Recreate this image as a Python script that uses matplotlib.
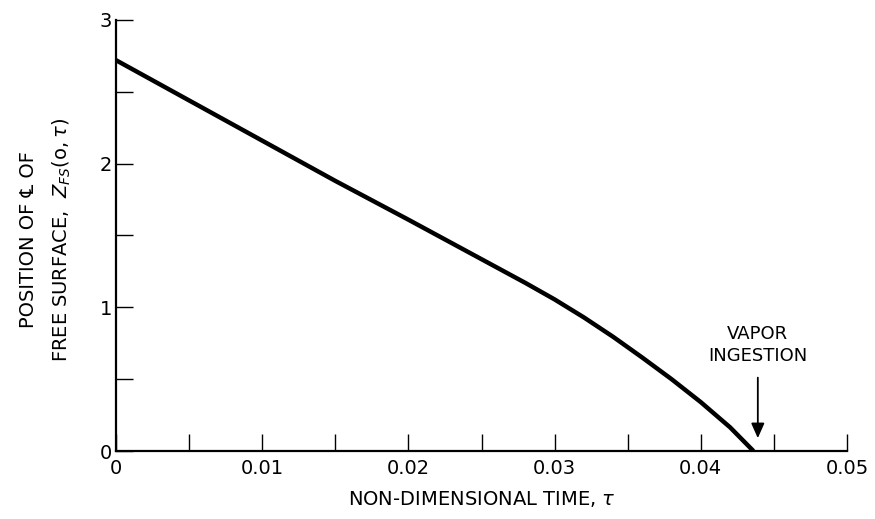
import matplotlib.pyplot as plt
from matplotlib.ticker import MultipleLocator

plt.rcParams['font.family'] = ['DejaVu Sans']
plt.rcParams['mathtext.fontset'] = 'dejavusans'

# curve: tau vs Z_FS(0, tau)
tau = [0.0, 0.005, 0.010, 0.015, 0.020, 0.024, 0.028, 0.030, 0.032,
       0.034, 0.036, 0.038, 0.040, 0.042, 0.0436]
z_fs = [2.72, 2.44, 2.16, 1.88, 1.61, 1.39, 1.17, 1.055, 0.93,
        0.795, 0.65, 0.50, 0.34, 0.165, 0.0]

x_ticks = [0, 0.01, 0.02, 0.03, 0.04, 0.05]
x_labels = ['0', '0.01', '0.02', '0.03', '0.04', '0.05']
y_ticks = [0, 1, 2, 3]

arrow_x = 0.0439
arrow_top = 0.53
arrow_tip = 0.07

fig = plt.figure(figsize=(8.75, 5.19), dpi=100)
ax = fig.add_axes([0.1326, 0.131, 0.8354, 0.8305])

ax.plot(tau, z_fs, color='black', linewidth=3.2, solid_capstyle='butt',
        solid_joinstyle='round')

ax.set_xlim(0, 0.05)
ax.set_ylim(0, 3)
ax.set_xticks(x_ticks)
ax.set_xticklabels(x_labels)
ax.set_yticks(y_ticks)
ax.xaxis.set_minor_locator(MultipleLocator(0.005))
ax.yaxis.set_minor_locator(MultipleLocator(0.5))
ax.tick_params(which='both', direction='in', length=12, width=1.0,
               labelsize=14, color='black')
ax.tick_params(axis='x', pad=6)
ax.tick_params(axis='y', pad=3)

for side in ['top', 'right']:
    ax.spines[side].set_visible(False)
for side in ['left', 'bottom']:
    ax.spines[side].set_linewidth(1.6)

ax.set_xlabel(r'NON-DIMENSIONAL TIME, $\tau$', fontsize=14, labelpad=8)
ax.set_ylabel('POSITION OF \u2104 OF\n' + r'FREE SURFACE,  $Z_{FS}(\mathsf{o},\tau)$',
              fontsize=14, linespacing=1.75)
ax.yaxis.set_label_coords(-0.059, 0.49)

ax.annotate('', xy=(arrow_x, arrow_tip), xytext=(arrow_x, arrow_top),
            arrowprops=dict(arrowstyle='-|>,head_length=0.9,head_width=0.4',
                            color='black', lw=1.3))
ax.text(arrow_x, 0.60, 'VAPOR\nINGESTION', ha='center', va='bottom',
        fontsize=13, linespacing=1.25)

fig.savefig('out.png', dpi=100)
